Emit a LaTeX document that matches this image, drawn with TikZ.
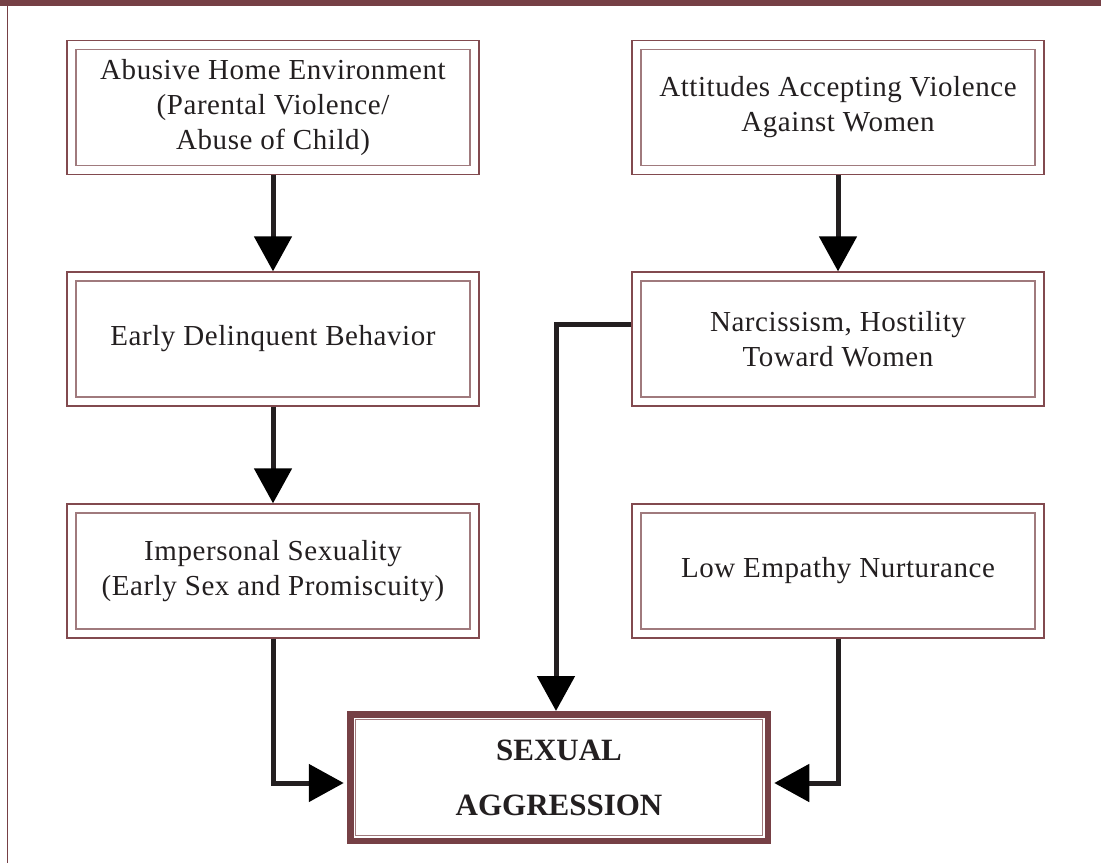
\documentclass[tikz,border=0pt]{standalone}
\usepackage{fontspec}
\setmainfont{Liberation Serif}[LetterSpace=2]
\newfontfamily\safont{Liberation Serif}
\usetikzlibrary{arrows.meta,calc}
\definecolor{frame}{HTML}{764045}
\definecolor{outc}{HTML}{824A4F}
\definecolor{inc}{HTML}{A07A7D}
\definecolor{ink}{HTML}{231F20}
\tikzset{
  x=1pt,y=-1pt,
  dbox/.style={draw=outc, line width=1.3pt, minimum width=412pt, minimum height=134pt,
    inner sep=0pt, align=center, text=ink, font=\fontsize{29}{35}\selectfont},
  innerline/.style={draw=inc, line width=1.5pt},
  conn/.style={draw=ink, line width=5pt, -{Triangle[length=35pt,width=37pt,color=black]}},
}
\begin{document}
\begin{tikzpicture}
\useasboundingbox (0,0) rectangle (1101,863);
\fill[frame] (0,0) rectangle (1101,5.5);
\draw[frame, line width=1.5pt] (7.5,0) -- (7.5,863);

\node[dbox] (a) at (273,107.5) {Abusive Home Environment\\(Parental Violence/\\Abuse of Child)};
\node[dbox] (b) at (273,339) {Early Delinquent Behavior};
\node[dbox] (c) at (273,571) {Impersonal Sexuality\\(Early Sex and Promiscuity)};
\node[dbox] (d) at (838,107.5) {Attitudes Accepting Violence\\Against Women};
\node[dbox] (e) at (838,339) {Narcissism, Hostility\\Toward Women};
\node[dbox] (f) at (838,571) {Low Empathy Nurturance};
\foreach \n in {a,b,c,d,e,f}
  \draw[innerline] ([shift={(9.5pt,-9.5pt)}]\n.north west) rectangle ([shift={(-9.5pt,9.5pt)}]\n.south east);

\node[draw=frame, line width=6.5pt, minimum width=417.5pt, minimum height=126.5pt, inner sep=0pt,
  align=center, text=ink, font=\safont\bfseries\fontsize{31}{55}\selectfont] (s) at (559,777.5) {SEXUAL\\AGGRESSION};
\draw[innerline, line width=1.3pt] ([shift={(8.5pt,-8.5pt)}]s.north west) rectangle ([shift={(-8.5pt,8.5pt)}]s.south east);

\draw[conn] (a.south) -- (b.north);
\draw[conn] (b.south) -- (c.north);
\draw[conn] (d.south) -- (e.north);
\draw[conn] ([yshift=15pt]e.west) -| ([xshift=-3pt]s.north);
\draw[conn] (c.south) |- ([yshift=-5.5pt,xshift=-3.25pt]s.west);
\draw[conn] (f.south) |- ([yshift=-5.5pt,xshift=3.25pt]s.east);
\end{tikzpicture}
\end{document}
